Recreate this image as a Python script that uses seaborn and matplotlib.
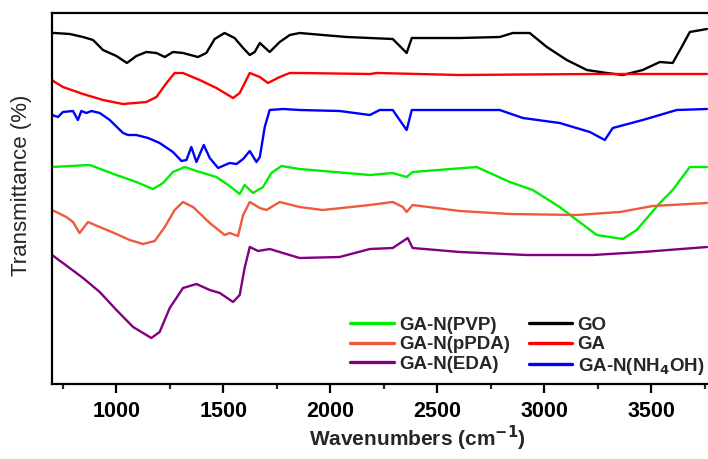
import numpy as np
import pandas as pd
import matplotlib
matplotlib.use("Agg")
import matplotlib.pyplot as plt
import seaborn as sns

# FTIR spectra (wavenumber in cm^-1, stacked transmittance in arbitrary offset units)
go_wn = [700, 713, 783, 845, 892, 938, 1001, 1050, 1094, 1141, 1188, 1227, 1265, 1312, 1382,
         1421, 1460, 1506, 1553, 1593, 1624, 1647, 1671, 1717, 1764, 1811, 1857, 1965, 2077,
         2185, 2292, 2334, 2357, 2381, 2605, 2792, 2853, 2932, 3012, 3105, 3199, 3292, 3367,
         3460, 3540, 3600, 3642, 3680, 3760]
go_t = [367, 367, 366, 363, 360, 350, 344, 337, 344, 348, 347, 343, 348, 347, 343,
        347, 361, 367, 362, 352, 345, 348, 357, 348, 358, 365, 367, 365, 363,
        362, 361, 352, 347, 362, 362, 363, 367, 367, 353, 340, 330, 327, 325,
        330, 338, 337, 353, 368, 371]

ga_wn = [700, 713, 751, 845, 938, 1032, 1141, 1188, 1235, 1273, 1312, 1390, 1468, 1546,
         1577, 1624, 1671, 1709, 1764, 1811, 1857, 2185, 2217, 2605, 3227, 3760]
ga_t = [320, 318, 313, 306, 300, 296, 298, 303, 317, 327, 327, 320, 312, 302,
        307, 327, 323, 317, 323, 327, 327, 326, 327, 325, 326, 326]

nh4oh_wn = [700, 728, 751, 798, 821, 837, 861, 884, 923, 970, 1008, 1032, 1055, 1094, 1149,
            1203, 1265, 1305, 1328, 1351, 1375, 1409, 1437, 1476, 1530, 1562, 1593, 1624,
            1655, 1671, 1694, 1717, 1779, 1857, 2044, 2185, 2231, 2292, 2334, 2357, 2381,
            2605, 2792, 2900, 3072, 3213, 3283, 3320, 3460, 3619, 3760]
nh4oh_t = [285, 283, 288, 289, 280, 289, 287, 289, 287, 280, 272, 267, 265, 265, 262,
           257, 248, 239, 240, 253, 238, 255, 242, 232, 237, 236, 241, 249,
           238, 243, 273, 290, 291, 290, 289, 285, 290, 290, 277, 270, 290,
           290, 290, 282, 277, 268, 260, 272, 280, 290, 291]

pvp_wn = [700, 876, 1001, 1094, 1172, 1219, 1265, 1320, 1375, 1468, 1530, 1577, 1600, 1639,
          1686, 1725, 1772, 1857, 2185, 2292, 2357, 2385, 2684, 2839, 2946, 3072, 3152,
          3245, 3367, 3432, 3540, 3600, 3680, 3760]
pvp_t = [233, 235, 225, 218, 211, 217, 228, 233, 229, 223, 214, 206, 215, 207,
         213, 227, 234, 231, 225, 227, 223, 228, 233, 218, 210, 193, 180,
         165, 161, 170, 197, 210, 233, 233]

ppda_wn = [700, 767, 798, 829, 868, 923, 1001, 1063, 1125, 1180, 1227, 1273, 1312, 1359,
           1437, 1507, 1530, 1569, 1593, 1624, 1671, 1702, 1764, 1857, 1965, 2185, 2292,
           2339, 2357, 2385, 2605, 2839, 3152, 3353, 3507, 3760]
ppda_t = [190, 183, 178, 167, 178, 173, 166, 160, 156, 159, 173, 190, 198, 193,
          177, 165, 167, 164, 185, 198, 192, 190, 198, 193, 190, 195, 198,
          193, 188, 195, 189, 186, 185, 188, 194, 197]

eda_wn = [700, 751, 845, 923, 1001, 1079, 1164, 1203, 1250, 1312, 1375, 1437, 1484, 1546,
          1577, 1600, 1624, 1663, 1717, 1857, 2044, 2185, 2292, 2334, 2362, 2385, 2605,
          2918, 3227, 3460, 3760]
eda_t = [145, 137, 122, 108, 90, 73, 62, 68, 92, 112, 116, 110, 107, 98,
         105, 132, 153, 149, 151, 142, 143, 151, 152, 158, 162, 152, 148,
         145, 145, 148, 153]

series = [
    ("GO", go_wn, go_t, "#000000"),
    ("GA", ga_wn, ga_t, "#FF0000"),
    ("GA-N(NH$_4$OH)", nh4oh_wn, nh4oh_t, "#0000FF"),
    ("GA-N(PVP)", pvp_wn, pvp_t, "#00EE00"),
    ("GA-N(pPDA)", ppda_wn, ppda_t, "#EE5A3C"),
    ("GA-N(EDA)", eda_wn, eda_t, "#800080"),
]

sns.set_theme(style="ticks")
plt.rcParams["font.family"] = ["Liberation Sans", "DejaVu Sans"]
plt.rcParams["mathtext.default"] = "bf"

fig = plt.figure(figsize=(7.08, 4.59), dpi=100)
ax = fig.add_axes([52 / 708, 75 / 459, 656 / 708, 371 / 459])

for name, wn, t, color in series:
    df = pd.DataFrame({"wn": wn, "t": t})
    sns.lineplot(data=df, x="wn", y="t", ax=ax, color=color, linewidth=1.7,
                 sort=False, estimator=None, label=name)

ax.set_xlim(700, 3765)
ax.set_ylim(16, 387)
ax.set_xticks([1000, 1500, 2000, 2500, 3000, 3500])
ax.set_xticks(np.arange(750, 3760, 250), minor=True)
ax.set_yticks([])
ax.tick_params(axis="x", which="major", direction="out", length=6.5, width=1.6,
               pad=6, labelsize=15.5, colors="black")
ax.tick_params(axis="x", which="minor", direction="out", length=3.5, width=1.6)
for lbl in ax.get_xticklabels():
    lbl.set_fontweight("bold")

for side in ["left", "top", "bottom"]:
    ax.spines[side].set_linewidth(1.6)
    ax.spines[side].set_color("black")
ax.spines["right"].set_visible(False)

ax.set_xlabel("Wavenumbers (cm$^{-1}$)", fontsize=15, fontweight="bold")
ax.xaxis.label.set_va("center")
ax.xaxis.set_label_coords(0.557, -0.146)
ax.set_ylabel("Transmittance (%)", fontsize=16)
ax.yaxis.label.set_va("center")
ax.yaxis.set_label_coords(-0.047, 0.535)

handles, labels = ax.get_legend_handles_labels()
order = ["GA-N(PVP)", "GA-N(pPDA)", "GA-N(EDA)", "GO", "GA", "GA-N(NH$_4$OH)"]
hl = {l: h for h, l in zip(handles, labels)}
leg = ax.legend([hl[o] for o in order], order, ncol=2, loc="lower left",
                bbox_to_anchor=(0.455, 0.02), frameon=False,
                prop={"weight": "bold", "size": 13.5}, handlelength=2.3,
                handletextpad=0.3, columnspacing=1.0, labelspacing=0.12,
                borderpad=0, borderaxespad=0)
for line in leg.get_lines():
    line.set_linewidth(2.4)

fig.savefig("out.png", dpi=100)
